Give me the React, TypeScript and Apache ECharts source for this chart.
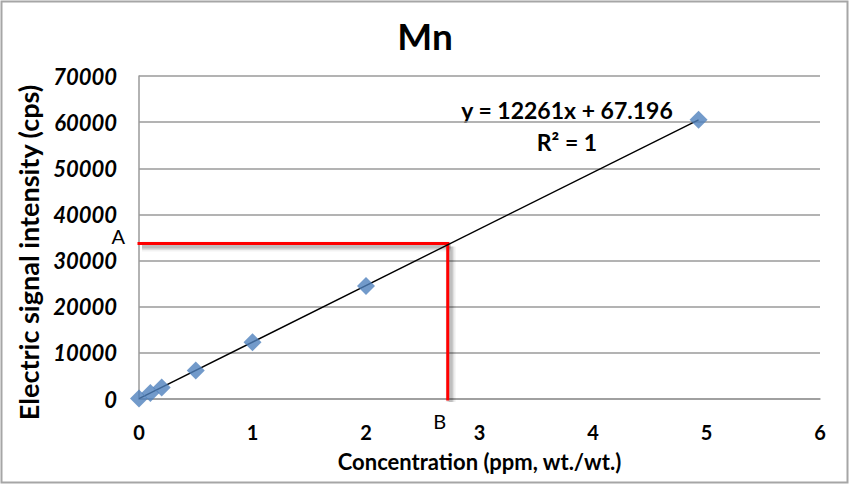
import React, { useEffect, useRef } from "react";
import * as echarts from "echarts";

const concentrations = [0, 0.1, 0.2, 0.5, 1, 2, 4.93];
const signals = [120, 1300, 2500, 6200, 12300, 24500, 60500];
const slope = 12261;
const intercept = 67.196;
const trendRange = [0, 4.93];
const pointA = 33700;
const pointB = 2.72;
const yTicks = [0, 70000, 10000];
const xTicks = [0, 6, 1];
const equationText = "y = 12261x + 67.196";
const r2Text = "R² = 1";

const FONT = "Lato, 'Open Sans', sans-serif";

export default function App() {
  const ref = useRef<HTMLDivElement>(null);
  useEffect(() => {
    if (!ref.current) return;
    const chart = echarts.init(ref.current, null, { renderer: "svg" });
    const trend = trendRange.map((x) => [x, slope * x + intercept]);
    const guides = [
      [0, pointA, pointB, pointA],
      [pointB, pointA, pointB, 0],
    ];
    chart.setOption({
      animation: false,
      backgroundColor: "#fff",
      title: {
        text: "Mn",
        left: "center",
        top: 12,
        textStyle: { fontFamily: FONT, fontWeight: "bold", fontSize: 37, color: "#000" },
      },
      grid: { left: 139, top: 76, right: 30, bottom: 86 },
      xAxis: {
        type: "value",
        min: xTicks[0],
        max: xTicks[1],
        interval: xTicks[2],
        name: "Concentration (ppm, wt./wt.)",
        nameLocation: "middle",
        nameGap: 51,
        nameTextStyle: { fontFamily: FONT, fontWeight: "bold", fontSize: 22, color: "#000" },
        axisLine: { show: true, lineStyle: { color: "#9a9a9a", width: 1.5 } },
        axisTick: { show: false },
        splitLine: { show: false },
        axisLabel: {
          fontFamily: FONT,
          fontWeight: "bold",
          fontSize: 20,
          color: "#000",
          margin: 23,
          formatter: (v: number) => String(v),
        },
      },
      yAxis: {
        type: "value",
        min: yTicks[0],
        max: yTicks[1],
        interval: yTicks[2],
        name: "Electric signal intensity (cps)",
        nameLocation: "middle",
        nameGap: 94,
        nameTextStyle: {
          fontFamily: FONT,
          fontWeight: "bold",
          fontSize: 27,
          color: "#000",
          padding: [0, 30, 0, 0],
        },
        axisLine: { show: true, lineStyle: { color: "#9a9a9a", width: 1.5 } },
        axisTick: { show: false },
        splitLine: { show: true, lineStyle: { color: "#9a9a9a", width: 1.5 } },
        axisLabel: {
          fontFamily: FONT,
          fontWeight: "bold",
          fontStyle: "italic",
          fontSize: 22,
          color: "#000",
          margin: 22,
          formatter: (v: number) => String(v),
        },
      },
      graphic: [
        {
          type: "rect",
          shape: { x: 1.5, y: 1.5, width: 846, height: 481 },
          style: { fill: "none", stroke: "#a6a6a6", lineWidth: 2 },
          silent: true,
        },
        {
          type: "text",
          x: 567,
          y: 110,
          style: {
            text: equationText,
            fontFamily: FONT,
            fontWeight: "bold",
            fontSize: 23,
            fill: "#000",
            align: "center",
            verticalAlign: "middle",
          },
        },
        {
          type: "text",
          x: 567,
          y: 142,
          style: {
            text: r2Text,
            fontFamily: FONT,
            fontWeight: "bold",
            fontSize: 23,
            fill: "#000",
            align: "center",
            verticalAlign: "middle",
          },
        },
      ],
      series: [
        {
          type: "custom",
          data: guides,
          clip: false,
          z: 2,
          renderItem: (params: any, api: any) => {
            const p1 = api.coord([api.value(0), api.value(1)]);
            const p2 = api.coord([api.value(2), api.value(3)]);
            const children: any[] = [];
            const shadows = [
              { off: 3, w: 10, a: 0.05 },
              { off: 3, w: 7, a: 0.08 },
              { off: 3, w: 4, a: 0.14 },
            ];
            shadows.forEach((s) => {
              children.push({
                type: "line",
                shape: { x1: p1[0] + s.off, y1: p1[1] + s.off, x2: p2[0] + s.off, y2: p2[1] + s.off },
                style: { stroke: `rgba(0,0,0,${s.a})`, lineWidth: s.w, lineCap: "butt" },
              });
            });
            children.push({
              type: "line",
              shape: { x1: p1[0], y1: p1[1], x2: p2[0], y2: p2[1] },
              style: { stroke: "#ff0000", lineWidth: 3, lineCap: "square" },
            });
            if (params.dataIndex === 0) {
              children.push({
                type: "text",
                x: p1[0] - 14,
                y: p1[1] - 7,
                style: {
                  text: "A",
                  fontFamily: FONT,
                  fontSize: 20,
                  fill: "#000",
                  align: "right",
                  verticalAlign: "middle",
                },
              });
            } else {
              children.push({
                type: "text",
                x: p2[0] - 8,
                y: p2[1] + 22,
                style: {
                  text: "B",
                  fontFamily: FONT,
                  fontSize: 20,
                  fill: "#000",
                  align: "center",
                  verticalAlign: "middle",
                },
              });
            }
            return { type: "group", children };
          },
        },
        {
          type: "line",
          data: trend,
          symbol: "none",
          lineStyle: { color: "#000", width: 1.4 },
          z: 3,
        },
        {
          type: "scatter",
          data: concentrations.map((c, i) => [c, signals[i]]),
          symbol: "diamond",
          symbolSize: [18, 18],
          itemStyle: { color: "#4f81bd" },
          z: 4,
        },
      ],
    });
    return () => chart.dispose();
  }, []);
  return (
    <div
      ref={ref}
      style={{ position: "fixed", left: 0, top: 0, width: 850, height: 485 }}
    />
  );
}
